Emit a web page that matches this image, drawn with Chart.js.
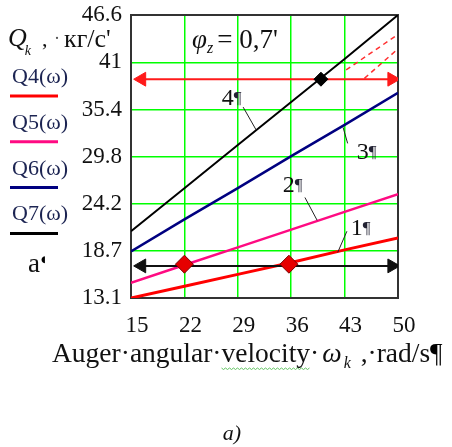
<!DOCTYPE html>
<html>
<head>
<meta charset="utf-8">
<script src="https://cdn.jsdelivr.net/npm/chart.js@4/dist/chart.umd.min.js"></script>
<style>
  html, body { margin: 0; padding: 0; background: #fff; }
  #wrap { width: 452px; height: 447px; }
</style>
</head>
<body>
<div id="wrap"><canvas id="chart-q" width="452" height="447"></canvas></div>
<script>
// auger angular velocity, rad/s
const omega = [15, 22, 29, 36, 43, 50];
// productivity Q, kg/s, curves 1..4
const q4 = [13.1, 14.5, 15.9, 17.3, 18.8, 20.2];
const q5 = [14.9, 17.0, 19.1, 21.2, 23.3, 25.4];
const q6 = [18.6, 22.4, 26.1, 29.9, 33.6, 37.4];
const q7 = [21.0, 26.1, 31.2, 36.3, 41.4, 46.6];

const xTicks = [15, 22, 29, 36, 43, 50];
const yTicks = [13.1, 18.7, 24.2, 29.8, 35.4, 41, 46.6];

// working points on the lower level, limit point on curve 4
const workX = [22, 35.7];
const workY = [17.1, 17.1];
const limitX = [39.9];
const limitY = [39.0];

// horizontal levels (arrows)
const lowArrowX = [16.4, 49.2];
const lowArrowY = [16.9, 16.9];
const highArrowX = [16.4, 49.2];
const highArrowY = [39.0, 39.0];

// extrapolated dashed parts
const dashAX = [43.2, 50], dashAY = [40.1, 44.3];
const dashBX = [45.6, 50], dashBY = [39.1, 42.6];

// curve numbers with leaders (data coordinates)
const curveNames = ['1', '2', '3', '4'];
const curveNameAt = [[43.8, 20.5], [34.9, 25.6], [44.6, 29.6], [26.9, 35.9]];
const leaderFrom = [[43.3, 21.0], [37.8, 25.0], [43.4, 31.4], [29.7, 35.7]];
const leaderTo = [[42.1, 18.5], [39.4, 22.3], [42.8, 33.3], [31.4, 33.0]];

const legendNames = ['Q4(ω)', 'Q5(ω)', 'Q6(ω)', 'Q7(ω)'];
const colors = ['#ff0000', '#ff0a82', '#000080', '#000000'];

const SERIF = "'Liberation Serif', 'Times New Roman', serif";
const pts = (xs, ys) => xs.map((v, i) => ({ x: v, y: ys[i] }));

function text(ctx, s, x, y, size, opts = {}) {
  ctx.font = (opts.italic ? 'italic ' : '') + size + 'px ' + SERIF;
  ctx.fillStyle = opts.color || '#111';
  ctx.textAlign = opts.align || 'left';
  ctx.textBaseline = 'alphabetic';
  ctx.fillText(s, x, y);
  return ctx.measureText(s).width;
}

const decor = {
  id: 'decor',
  beforeDatasetsDraw(chart) {
    const { ctx, chartArea: a } = chart;
    ctx.save();
    ctx.strokeStyle = '#333';
    ctx.lineWidth = 2;
    ctx.strokeRect(a.left, a.top, a.right - a.left, a.bottom - a.top);
    ctx.restore();
  },
  afterDatasetsDraw(chart) {
    const { ctx, scales: { x, y } } = chart;
    ctx.save();
    ctx.strokeStyle = '#222';
    ctx.lineWidth = 1;
    curveNames.forEach((n, i) => {
      ctx.beginPath();
      ctx.moveTo(x.getPixelForValue(leaderFrom[i][0]), y.getPixelForValue(leaderFrom[i][1]));
      ctx.lineTo(x.getPixelForValue(leaderTo[i][0]), y.getPixelForValue(leaderTo[i][1]));
      ctx.stroke();
      const px = x.getPixelForValue(curveNameAt[i][0]);
      const py = y.getPixelForValue(curveNameAt[i][1]);
      const w = text(ctx, n, px, py, 24);
      text(ctx, '¶', px + w, py - 2, 17, { color: '#223' });
    });

    // φz = 0,7
    let px = x.getPixelForValue(23.0), py = y.getPixelForValue(42.7);
    px += text(ctx, 'φ', px, py, 27, { italic: true });
    px += text(ctx, 'z', px, py + 5, 16, { italic: true }) + 4;
    text(ctx, '= 0,7\'', px, py, 27);
    ctx.restore();
  },
  afterDraw(chart) {
    const { ctx } = chart;
    ctx.save();

    // axis unit at top left
    let px = 8;
    px += text(ctx, 'Q', px, 46, 26, { italic: true });
    text(ctx, 'k', px - 2, 55, 14, { italic: true });
    text(ctx, ',', 42, 46, 22);
    text(ctx, '·', 54, 44, 18, { color: '#555' });
    text(ctx, 'кг/с\'', 64, 47, 26);

    // series legend
    legendNames.forEach((n, i) => {
      const yy = 83 + i * 45.8;
      text(ctx, n, 12, yy, 22, { color: '#1c2452' });
      ctx.strokeStyle = colors[i];
      ctx.lineWidth = 3;
      ctx.beginPath();
      ctx.moveTo(10, yy + 13);
      ctx.lineTo(58, yy + 13);
      ctx.stroke();
    });
    const aw = text(ctx, 'a', 28, 272, 27);
    ctx.font = "9px 'DejaVu Sans'";
    ctx.fillStyle = '#000';
    ctx.fillText('◖', 28 + aw + 1, 262);

    // x axis title
    const base = 362, size = 27.5;
    px = 52;
    px += text(ctx, 'Auger·angular·', px, base, size);
    const vStart = px;
    px += text(ctx, 'velocity', px, base, size);
    const vEnd = px;
    px += text(ctx, '·', px, base, size);
    px += text(ctx, 'ω', px + 3, base, size, { italic: true }) + 5;
    px += text(ctx, 'k', px, base + 6, 16, { italic: true }) + 3;
    px += text(ctx, ' ,·rad/s', px, base, size);
    text(ctx, '¶', px, base, size, { color: '#000' });

    // spelling squiggle under "velocity"
    ctx.strokeStyle = '#5ec25e';
    ctx.lineWidth = 1;
    ctx.beginPath();
    for (let sx = vStart; sx <= vEnd; sx += 2) {
      const sy = base + 6 + ((Math.round((sx - vStart) / 2) % 2) ? 1.5 : 0);
      if (sx === vStart) ctx.moveTo(sx, sy); else ctx.lineTo(sx, sy);
    }
    ctx.stroke();

    // caption
    text(ctx, 'a)', 232, 440, 22, { italic: true, align: 'center' });
    ctx.restore();
  }
};

const tickFont = { family: SERIF, size: 23 };

new Chart(document.getElementById('chart-q').getContext('2d'), {
  type: 'line',
  data: {
    datasets: [
      { data: pts(workX, workY), showLine: false, pointStyle: 'rectRot', pointRadius: 9,
        backgroundColor: '#e60000', borderColor: '#7a0000', pointBorderWidth: 1 },
      { data: pts(limitX, limitY), showLine: false, pointStyle: 'rectRot', pointRadius: 7,
        backgroundColor: '#000', borderColor: '#000', pointBorderWidth: 1 },
      { data: pts(highArrowX, highArrowY), borderColor: '#ff1a1a', borderWidth: 2,
        pointStyle: 'triangle', pointRadius: 8, pointRotation: [270, 90],
        backgroundColor: '#ff1a1a', pointBorderWidth: 1 },
      { data: pts(lowArrowX, lowArrowY), borderColor: '#111', borderWidth: 2,
        pointStyle: 'triangle', pointRadius: 8, pointRotation: [270, 90],
        backgroundColor: '#111', pointBorderWidth: 1 },
      { data: pts(dashAX, dashAY), borderColor: '#ff3030', borderWidth: 1.5, borderDash: [5, 4], pointRadius: 0 },
      { data: pts(dashBX, dashBY), borderColor: '#ff3030', borderWidth: 1.5, borderDash: [5, 4], pointRadius: 0 },
      { label: 'Q4', data: pts(omega, q4), borderColor: colors[0], borderWidth: 3, pointRadius: 0 },
      { label: 'Q5', data: pts(omega, q5), borderColor: colors[1], borderWidth: 2.5, pointRadius: 0 },
      { label: 'Q6', data: pts(omega, q6), borderColor: colors[2], borderWidth: 2.5, pointRadius: 0 },
      { label: 'Q7', data: pts(omega, q7), borderColor: colors[3], borderWidth: 2, pointRadius: 0 }
    ]
  },
  options: {
    responsive: false,
    devicePixelRatio: 1,
    animation: false,
    events: [],
    layout: { padding: { left: 0, top: 15, right: 54, bottom: 100 } },
    plugins: { legend: { display: false }, tooltip: { enabled: false } },
    elements: { line: { tension: 0 } },
    scales: {
      x: {
        type: 'linear', min: 15, max: 50,
        afterBuildTicks: s => { s.ticks = xTicks.map(v => ({ value: v })); },
        afterFit: s => { s.height = 49; s.paddingLeft = 0; s.paddingRight = 0; },
        grid: { color: '#00ff00', lineWidth: 1.5, drawTicks: false },
        border: { color: '#333', width: 2 },
        ticks: { font: tickFont, color: '#111', padding: 14, autoSkip: false, maxRotation: 0,
                 labelOffset: 6, callback: v => String(v) }
      },
      y: {
        type: 'linear', min: 13.1, max: 46.6,
        afterBuildTicks: s => { s.ticks = yTicks.map(v => ({ value: v })); },
        afterFit: s => { s.width = 131; s.paddingTop = 0; s.paddingBottom = 0; },
        grid: { color: '#00ff00', lineWidth: 1.5, drawTicks: false },
        border: { color: '#333', width: 2 },
        ticks: { font: tickFont, color: '#111', padding: 9, autoSkip: false,
                 callback: v => String(v) }
      }
    }
  },
  plugins: [decor]
});
</script>
</body>
</html>
